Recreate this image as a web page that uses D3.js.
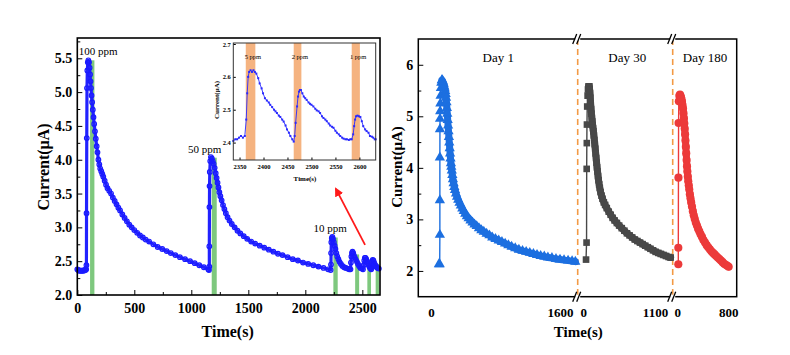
<!DOCTYPE html>
<html><head><meta charset="utf-8">
<script src="https://cdn.jsdelivr.net/npm/d3@7"></script>
<style>body{margin:0;background:#fff}svg{display:block}</style>
</head><body><svg id="c" width="790" height="355"></svg>
<script>
// ---------------- DATA ----------------
// Left: response current vs time (time s, current µA)
const mainCurve = [
[0,2.38],[8,2.37],[16,2.36],[24,2.36],[32,2.36],[40,2.36],[48,2.36],[56,2.36],[64,2.37],[72,2.37],[78,2.38],
[80,2.44],[81,3.21],[83,4.32],[85,5.06],[88,5.32],[92,5.44],[97,5.47],[103,5.44],
[108,5.36],[112,5.26],[116,5.16],[120,5.06],[125,4.95],[130,4.85],[136,4.74],[142,4.63],[148,4.53],[155,4.42],[162,4.31],[170,4.20],[177,4.11],[185,4.00],[193,3.93],[201,3.87],[210,3.83],[219,3.79],[228,3.75],[240,3.69],[252,3.63],[265,3.58],[280,3.54],[296,3.50],[312,3.44],[328,3.39],[344,3.34],[360,3.29],[375,3.25],[395,3.19],[415,3.14],[435,3.09],[456,3.04],[477,3.00],[500,2.96],[525,2.92],[550,2.88],[575,2.85],[600,2.82],[630,2.79],[667,2.75],[705,2.71],[745,2.68],[784,2.65],[820,2.62],[860,2.59],[900,2.56],[945,2.53],[989,2.50],[1030,2.47],[1070,2.44],[1110,2.41],[1149,2.38],
[1155,2.37],[1158,2.42],[1158,2.72],[1159,3.30],[1160,3.61],[1162,3.82],[1166,3.98],[1172,4.04],[1180,4.02],
[1188,3.98],[1196,3.94],[1205,3.88],[1214,3.80],[1222,3.73],[1230,3.66],[1238,3.59],[1246,3.52],[1255,3.46],[1266,3.40],[1278,3.33],[1290,3.27],[1303,3.21],[1318,3.15],[1335,3.10],[1355,3.05],[1380,3.00],[1405,2.95],[1430,2.91],[1460,2.87],[1490,2.83],[1525,2.79],[1560,2.76],[1600,2.73],[1640,2.70],[1680,2.67],[1720,2.64],[1760,2.61],[1800,2.59],[1845,2.56],[1890,2.53],[1935,2.51],[1980,2.48],[2025,2.46],[2070,2.44],[2115,2.42],[2160,2.40],[2200,2.38],[2222,2.37],
[2225,2.45],[2226,2.62],[2228,2.78],[2232,2.84],[2237,2.86],[2243,2.83],[2250,2.78],[2257,2.73],[2264,2.68],[2272,2.62],[2280,2.57],[2290,2.53],[2300,2.49],[2312,2.46],[2325,2.43],[2340,2.41],[2355,2.40],[2370,2.39],[2385,2.38],[2396,2.38],
[2400,2.48],[2404,2.57],[2409,2.62],[2414,2.64],[2420,2.62],[2427,2.58],[2435,2.55],[2444,2.52],[2453,2.49],[2462,2.46],[2472,2.43],[2484,2.40],[2496,2.39],[2506,2.38],
[2512,2.44],[2517,2.51],[2522,2.55],[2528,2.55],[2534,2.53],[2541,2.50],[2548,2.47],[2556,2.44],[2564,2.41],[2572,2.39],[2578,2.38],
[2582,2.43],[2586,2.49],[2591,2.52],[2597,2.51],[2604,2.48],[2611,2.45],[2618,2.43],[2626,2.41],[2635,2.40],[2645,2.39]
];
const gasBarStart = [112, 1179, 2246, 2437, 2544, 2617];
const gasBarEnd   = [150, 1223, 2284, 2472, 2576, 2646];
const gasBarTop   = [5.47, 4.03, 2.85, 2.60, 2.52, 2.46];
const concLabels  = ["100 ppm", "50 ppm", "10 ppm"];
const concLabelAt = [[182, 5.55], [1118, 4.10], [2217, 2.93]];
const leftXTicks = [0, 500, 1000, 1500, 2000, 2500];
const leftXMinor = [250, 750, 1250, 1750, 2250];
const leftYTicks = [2.0, 2.5, 3.0, 3.5, 4.0, 4.5, 5.0, 5.5];
const leftYMinor = [2.25, 2.75, 3.25, 3.75, 4.25, 4.75, 5.25, 5.75];
const arrowFrom = [2524, 2.74], arrowTo = [2268, 3.57];

// Inset: low-concentration zoom
const insetCurve = [
[2337,2.405],[2341,2.41],[2345,2.41],[2349,2.415],[2353,2.42],[2357,2.415],[2361,2.42],[2364,2.47],[2366,2.55],[2368,2.60],[2370,2.615],[2373,2.62],[2376,2.615],[2379,2.62],[2382,2.615],[2385,2.61],[2389,2.596],[2392,2.58],[2396,2.565],[2399,2.55],[2403,2.535],[2407,2.528],[2411,2.522],[2414,2.515],[2418,2.508],[2422,2.50],[2425,2.495],[2428,2.49],[2432,2.482],[2435,2.478],[2439,2.47],[2442,2.464],[2446,2.452],[2449,2.44],[2453,2.43],[2456,2.42],[2460,2.41],[2463,2.403],
[2465,2.42],[2467,2.46],[2470,2.51],[2472,2.54],[2474,2.555],[2476,2.56],[2478,2.56],[2481,2.55],[2484,2.54],[2487,2.535],[2490,2.53],[2494,2.522],[2497,2.518],[2500,2.515],[2504,2.51],[2508,2.503],[2511,2.498],[2515,2.495],[2518,2.49],[2522,2.48],[2525,2.475],[2529,2.47],[2532,2.465],[2536,2.458],[2539,2.452],[2543,2.448],[2546,2.445],[2550,2.436],[2553,2.43],[2557,2.425],[2560,2.42],[2564,2.415],[2567,2.412],[2571,2.41],[2574,2.41],[2578,2.408],[2581,2.41],[2584,2.41],
[2587,2.425],[2589,2.45],[2591,2.47],[2593,2.48],[2596,2.482],[2599,2.48],[2602,2.478],[2605,2.465],[2608,2.45],[2612,2.44],[2615,2.435],[2619,2.43],[2622,2.42],[2626,2.418],[2629,2.415],[2632,2.41],[2634,2.41]
];
const insetBandStart = [2363, 2463, 2584];
const insetBandEnd   = [2383, 2479, 2601];
const insetLabels    = ["5 ppm", "2 ppm", "1 ppm"];
const insetLabelY    = 2.654;
const insetXTicks = [2350, 2400, 2450, 2500, 2550, 2600];
const insetYTicks = [2.4, 2.5, 2.6, 2.7];

// Right: stability (Day 1 / Day 30 / Day 180)
const day1Curve = [
[98,2.13],[108,2.13],[110,2.70],[110,3.37],[110,4.20],[111,4.75],[112,4.95],[114,5.10],[116,5.25],[119,5.40],[123,5.55],[128,5.65],[134,5.70],
[140,5.70],[146,5.68],[152,5.65],[158,5.62],[164,5.58],[170,5.54],[176,5.49],[182,5.43],[187,5.36],[192,5.27],[197,5.16],[202,5.05],[207,4.93],[212,4.82],[217,4.71],[222,4.60],[227,4.49],[232,4.38],[237,4.28],[242,4.18],[247,4.09],[252,4.02],[258,3.95],[265,3.86],[272,3.78],[280,3.70],[289,3.63],[298,3.57],[310,3.50],[323,3.44],[338,3.38],[354,3.32],[370,3.27],[388,3.21],[406,3.16],[425,3.11],[445,3.06],[467,3.02],[490,2.98],[515,2.94],[540,2.90],[567,2.87],[595,2.83],[625,2.79],[655,2.76],[690,2.72],[725,2.69],[760,2.65],[800,2.62],[840,2.59],[880,2.56],[920,2.53],[960,2.50],[1000,2.47],[1045,2.44],[1090,2.41],[1135,2.39],[1180,2.37],[1225,2.35],[1270,2.33],[1315,2.31],[1360,2.29],[1405,2.28],[1450,2.26],[1500,2.25],[1550,2.23],[1600,2.22],[1650,2.21],[1700,2.20],[1750,2.19],[1790,2.18]
];
const day30Curve = [
[42,2.22],[50,2.55],[52,3.98],[54,4.48],[56,4.84],[60,5.19],[66,5.40],[72,5.52],[80,5.58],[88,5.58],
[92,5.58],[97,5.52],[102,5.45],[107,5.36],[113,5.24],[119,5.14],[125,5.05],[131,4.97],[137,4.90],[143,4.83],[149,4.77],[155,4.71],[162,4.63],[169,4.54],[176,4.46],[183,4.37],[190,4.28],[197,4.19],[204,4.10],[211,4.01],[218,3.93],[226,3.84],[234,3.76],[243,3.68],[253,3.61],[265,3.53],[280,3.46],[295,3.40],[315,3.33],[335,3.28],[360,3.22],[390,3.15],[420,3.09],[450,3.03],[480,2.98],[515,2.93],[550,2.88],[590,2.83],[630,2.78],[670,2.73],[710,2.69],[750,2.65],[790,2.61],[830,2.58],[870,2.55],[910,2.52],[950,2.49],[990,2.46],[1030,2.43],[1070,2.40],[1110,2.37],[1150,2.35],[1190,2.33],[1230,2.31],[1270,2.29],[1310,2.27],[1340,2.26]
];
const day180Curve = [
[16,2.13],[16,2.45],[18,3.81],[20,4.87],[24,5.29],[32,5.40],
[42,5.42],[50,5.40],[58,5.37],[66,5.33],[74,5.28],[82,5.22],[90,5.15],[97,5.06],[104,4.96],[110,4.86],[116,4.76],[122,4.65],[128,4.53],[134,4.41],[140,4.28],[146,4.15],[152,4.03],[158,3.93],[165,3.83],[172,3.74],[180,3.66],[188,3.58],[197,3.49],[207,3.41],[218,3.33],[230,3.25],[244,3.16],[258,3.08],[273,3.01],[290,2.94],[308,2.88],[326,2.82],[345,2.77],[365,2.71],[387,2.66],[410,2.60],[435,2.55],[460,2.50],[485,2.46],[510,2.42],[535,2.38],[560,2.35],[585,2.32],[610,2.29],[635,2.26],[660,2.23],[685,2.20],[710,2.17],[735,2.14],[760,2.12],[785,2.10],[805,2.08]
];
const dayLabels   = ["Day 1", "Day 30", "Day 180"];
const dayLabelT   = [835, 675, 434];
const dayLabelY   = 6.06;
const segTickLabels = [[0, 1600], [0, 1100], [0, 800]];
const rightYTicks = [2, 3, 4, 5, 6];
const rightYMinor = [2.5, 3.5, 4.5, 5.5];

// ---------------- DRAW ----------------
const F = "'Liberation Serif','Times New Roman',Times,serif";
const svg = d3.select("#c");
function styleAxis(sel, size, weight) {
  sel.select(".domain").remove();
  sel.selectAll("line").attr("stroke", "#000").attr("stroke-width", 1);
  sel.selectAll("text").attr("font-family", F).attr("font-size", size)
     .attr("font-weight", weight).attr("fill", "#000");
}

// ===== LEFT PANEL =====
const L = {x0: 77.3, x1: 380, y0: 38, y1: 295};
const xL = d3.scaleLinear().domain([0, 2655]).range([L.x0, L.x1]);
const yL = d3.scaleLinear().domain([2.0, 5.8]).range([L.y1, L.y0]);

svg.append("g").selectAll("rect").data(gasBarStart).join("rect")
  .attr("x", d => xL(d))
  .attr("width", (d, i) => xL(gasBarEnd[i]) - xL(d))
  .attr("y", (d, i) => yL(gasBarTop[i]))
  .attr("height", (d, i) => yL(2.0) - yL(gasBarTop[i]))
  .attr("fill", "#7ec87e");

const lineL = d3.line().x(d => xL(d[0])).y(d => yL(d[1]));
svg.append("path").datum(mainCurve).attr("d", lineL)
  .attr("fill", "none").attr("stroke", "#2222ff").attr("stroke-width", 3.2)
  .attr("stroke-linejoin", "round").attr("stroke-linecap", "round");
svg.append("g").selectAll("circle").data(mainCurve).join("circle")
  .attr("cx", d => xL(d[0])).attr("cy", d => yL(d[1])).attr("r", 2.3)
  .attr("fill", "none").attr("stroke", "#1a1aff").attr("stroke-width", 1.2);

svg.append("g").attr("transform", `translate(0,${L.y1})`)
  .call(d3.axisBottom(xL).tickValues(leftXTicks).tickSizeInner(-5).tickSizeOuter(0).tickPadding(8).tickFormat(d3.format("d")))
  .call(styleAxis, 14, "bold");
svg.append("g").attr("transform", `translate(0,${L.y1})`)
  .call(d3.axisBottom(xL).tickValues(leftXMinor).tickSizeInner(-3).tickSizeOuter(0).tickFormat(""))
  .call(styleAxis, 14, "bold");
svg.append("g").attr("transform", `translate(${L.x0},0)`)
  .call(d3.axisLeft(yL).tickValues(leftYTicks).tickSizeInner(-5).tickSizeOuter(0).tickPadding(5).tickFormat(d3.format(".1f")))
  .call(styleAxis, 14, "bold");
svg.append("g").attr("transform", `translate(${L.x0},0)`)
  .call(d3.axisLeft(yL).tickValues(leftYMinor).tickSizeInner(-3).tickSizeOuter(0).tickFormat(""))
  .call(styleAxis, 14, "bold");
svg.append("rect").attr("x", L.x0).attr("y", L.y0).attr("width", L.x1 - L.x0).attr("height", L.y1 - L.y0)
  .attr("fill", "none").attr("stroke", "#000").attr("stroke-width", 1.6);

svg.append("g").selectAll("text").data(concLabels).join("text")
  .attr("x", (d, i) => xL(concLabelAt[i][0])).attr("y", (d, i) => yL(concLabelAt[i][1]))
  .attr("text-anchor", "middle").attr("font-family", F).attr("font-size", 11).text(d => d);

svg.append("text").attr("x", (L.x0 + L.x1) / 2 - 1).attr("y", 337).attr("text-anchor", "middle")
  .attr("font-family", F).attr("font-size", 16).attr("font-weight", "bold").text("Time(s)");
svg.append("text").attr("transform", `translate(43,167) rotate(-90)`).attr("text-anchor", "middle")
  .attr("dy", "0.35em").attr("font-family", F).attr("font-size", 16).attr("font-weight", "bold").text("Current(μA)");

// arrow
const defs = svg.append("defs");
defs.append("marker").attr("id", "ah").attr("viewBox", "0 0 10 10").attr("refX", 8).attr("refY", 5)
  .attr("markerWidth", 5).attr("markerHeight", 5).attr("orient", "auto")
  .append("path").attr("d", "M0,0 L10,5 L0,10 z").attr("fill", "#ff1a1a");
svg.append("line").attr("x1", xL(arrowFrom[0])).attr("y1", yL(arrowFrom[1]))
  .attr("x2", xL(arrowTo[0])).attr("y2", yL(arrowTo[1]))
  .attr("stroke", "#ff1a1a").attr("stroke-width", 1.8).attr("marker-end", "url(#ah)");

// ===== INSET =====
const I = {x0: 233.3, x1: 375.7, y0: 43, y1: 160};
const xI = d3.scaleLinear().domain([2337, 2634]).range([I.x0, I.x1]);
const yI = d3.scaleLinear().domain([2.347, 2.703]).range([I.y1, I.y0]);
svg.append("rect").attr("x", I.x0).attr("y", I.y0).attr("width", I.x1 - I.x0).attr("height", I.y1 - I.y0).attr("fill", "#fff");
svg.append("g").selectAll("rect").data(insetBandStart).join("rect")
  .attr("x", d => xI(d)).attr("width", (d, i) => xI(insetBandEnd[i]) - xI(d))
  .attr("y", I.y0).attr("height", I.y1 - I.y0).attr("fill", "#f5b380");
const lineI = d3.line().x(d => xI(d[0])).y(d => yI(d[1]));
svg.append("path").datum(insetCurve).attr("d", lineI)
  .attr("fill", "none").attr("stroke", "#2a2aff").attr("stroke-width", 0.9);
svg.append("g").selectAll("rect").data(insetCurve).join("rect")
  .attr("x", d => xI(d[0]) - 1).attr("y", d => yI(d[1]) - 1).attr("width", 2).attr("height", 2)
  .attr("fill", "#2a2aff");
svg.append("g").attr("transform", `translate(0,${I.y1})`)
  .call(d3.axisBottom(xI).tickValues(insetXTicks).tickSizeInner(-2.5).tickSizeOuter(0).tickPadding(4).tickFormat(d3.format("d")))
  .call(styleAxis, 6.5, "bold");
svg.append("g").attr("transform", `translate(${I.x0},0)`)
  .call(d3.axisLeft(yI).tickValues(insetYTicks).tickSizeInner(-2.5).tickSizeOuter(0).tickPadding(2.5).tickFormat(d3.format(".1f")))
  .call(styleAxis, 6.5, "bold");
svg.append("rect").attr("x", I.x0).attr("y", I.y0).attr("width", I.x1 - I.x0).attr("height", I.y1 - I.y0)
  .attr("fill", "none").attr("stroke", "#333").attr("stroke-width", 1);
svg.append("g").selectAll("text").data(insetLabels).join("text")
  .attr("x", (d, i) => xI((insetBandStart[i] + insetBandEnd[i]) / 2 + 5)).attr("y", yI(insetLabelY))
  .attr("text-anchor", "middle").attr("font-family", F).attr("font-size", 6.5).text(d => d);
svg.append("text").attr("x", 305).attr("y", 180.5).attr("text-anchor", "middle")
  .attr("font-family", F).attr("font-size", 7).attr("font-weight", "bold").text("Time(s)");
svg.append("text").attr("transform", `translate(216.5,100) rotate(-90)`).attr("text-anchor", "middle")
  .attr("dy", "0.35em").attr("font-family", F).attr("font-size", 7).attr("font-weight", "bold").text("Current(μA)");

// ===== RIGHT PANEL =====
const R = {x0: 418.3, x1: 736.7, y0: 39, y1: 296.7};
const breaks = [577.7, 672.7];
const segs = [
  d3.scaleLinear().domain([-157.5, 1819.5]).range([R.x0, breaks[0]]),
  d3.scaleLinear().domain([-86, 1371.6]).range([breaks[0], breaks[1]]),
  d3.scaleLinear().domain([-72.2, 931.8]).range([breaks[1], R.x1])
];
const yR = d3.scaleLinear().domain([1.5, 6.5]).range([R.y1, R.y0]);

// dashed separators
svg.append("g").selectAll("line").data(breaks).join("line")
  .attr("x1", d => d).attr("x2", d => d).attr("y1", R.y0).attr("y2", R.y1)
  .attr("stroke", "#f39a45").attr("stroke-width", 1.6).attr("stroke-dasharray", "6,4");

const series = [
  {data: day1Curve,   seg: 0, color: "#1c6fe0", sym: d3.symbolTriangle, size: 46},
  {data: day30Curve,  seg: 1, color: "#484848", sym: d3.symbolSquare,   size: 44},
  {data: day180Curve, seg: 2, color: "#ec3a3a", sym: d3.symbolCircle,   size: 52}
];
series.forEach(s => {
  const xs = segs[s.seg];
  const ln = d3.line().x(d => xs(d[0])).y(d => yR(d[1]));
  svg.append("path").datum(s.data).attr("d", ln)
    .attr("fill", "none").attr("stroke", s.color).attr("stroke-width", 1.4);
  // dense decay band (points after the peak)
  const peak = d3.maxIndex(s.data, d => d[1]);
  svg.append("path").datum(s.data.slice(peak)).attr("d", ln)
    .attr("fill", "none").attr("stroke", s.color).attr("stroke-width", 7)
    .attr("stroke-linejoin", "round").attr("stroke-linecap", "round");
  svg.append("g").selectAll("path").data(s.data).join("path")
    .attr("transform", d => `translate(${xs(d[0])},${yR(d[1])})`)
    .attr("d", d3.symbol().type(s.sym).size(s.size))
    .attr("fill", s.color);
});

svg.append("g").attr("transform", `translate(${R.x0},0)`)
  .call(d3.axisLeft(yR).tickValues(rightYTicks).tickSizeInner(-5).tickSizeOuter(0).tickPadding(5).tickFormat(d3.format("d")))
  .call(styleAxis, 14, "bold");
svg.append("g").attr("transform", `translate(${R.x0},0)`)
  .call(d3.axisLeft(yR).tickValues(rightYMinor).tickSizeInner(-3).tickSizeOuter(0).tickFormat(""))
  .call(styleAxis, 14, "bold");
segTickLabels.forEach((ticks, i) => {
  svg.append("g").attr("transform", `translate(0,${R.y1})`)
    .call(d3.axisBottom(segs[i]).tickValues(ticks).tickSizeInner(0).tickSizeOuter(0).tickPadding(11).tickFormat(d3.format("d")))
    .call(styleAxis, 13, "bold");
});

// frame with breaks
svg.append("rect").attr("x", R.x0).attr("y", R.y0).attr("width", R.x1 - R.x0).attr("height", R.y1 - R.y0)
  .attr("fill", "none").attr("stroke", "#000").attr("stroke-width", 1.5);
breaks.forEach(bx => {
  [R.y0, R.y1].forEach(by => {
    svg.append("rect").attr("x", bx - 2.5).attr("y", by - 2).attr("width", 5).attr("height", 4).attr("fill", "#fff");
    [-2.5, 1.5].forEach(off => {
      svg.append("line").attr("x1", bx + off - 2.5).attr("y1", by + 5).attr("x2", bx + off + 1.5).attr("y2", by - 5)
        .attr("stroke", "#000").attr("stroke-width", 1.3);
    });
  });
});

svg.append("g").selectAll("text").data(dayLabels).join("text")
  .attr("x", (d, i) => segs[i](dayLabelT[i])).attr("y", yR(dayLabelY))
  .attr("text-anchor", "middle").attr("font-family", F).attr("font-size", 13).text(d => d);

svg.append("text").attr("x", 578.3).attr("y", 337).attr("text-anchor", "middle")
  .attr("font-family", F).attr("font-size", 15).attr("font-weight", "bold").text("Time(s)");
svg.append("text").attr("transform", `translate(396.7,167) rotate(-90)`).attr("text-anchor", "middle")
  .attr("dy", "0.35em").attr("font-family", F).attr("font-size", 15).attr("font-weight", "bold").text("Current(μA)");
</script>
</body></html>
